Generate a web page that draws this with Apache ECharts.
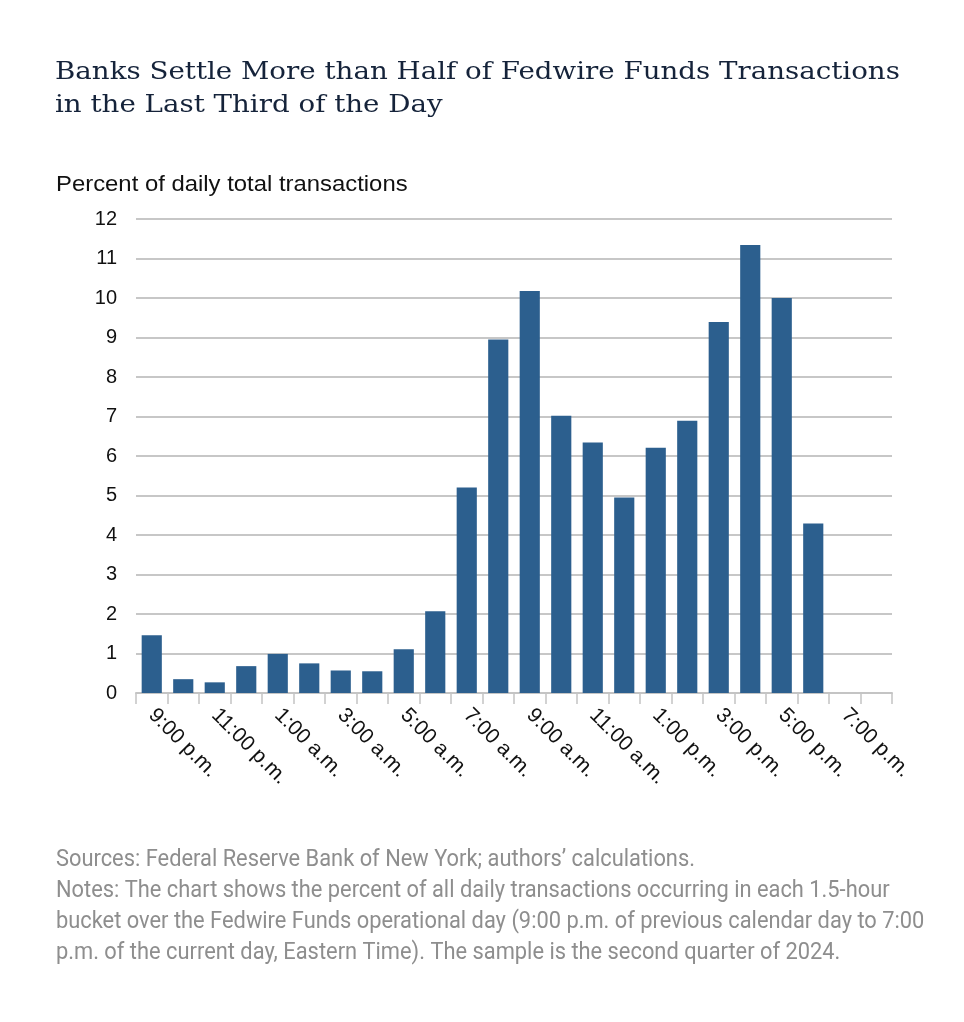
<!DOCTYPE html>
<html>
	<head>
		<meta charset="UTF-8">
		<title>Fedwire Funds transactions by hour</title>
		<style>
			html,body{margin:0;padding:0;background:#fff;}
			#box{width:964px;height:1022px;}
		</style>
	</head>
	<body>
		<div id="box"></div>
		<script type="text/javascript" src="https://cdn.jsdelivr.net/npm/echarts@6/dist/echarts.min.js"></script>
		<script type="text/javascript">
			// one category per hour, 9:00 p.m. through 8:00 p.m.
			var hours=['9:00 p.m.','10:00 p.m.','11:00 p.m.','12:00 a.m.','1:00 a.m.','2:00 a.m.','3:00 a.m.','4:00 a.m.',
				'5:00 a.m.','6:00 a.m.','7:00 a.m.','8:00 a.m.','9:00 a.m.','10:00 a.m.','11:00 a.m.','12:00 p.m.',
				'1:00 p.m.','2:00 p.m.','3:00 p.m.','4:00 p.m.','5:00 p.m.','6:00 p.m.','7:00 p.m.','8:00 p.m.'];
			// percent of daily total transactions
			var percent=[1.46,0.35,0.27,0.68,0.99,0.75,0.57,0.55,1.11,2.07,5.20,8.95,
				10.18,7.02,6.34,4.95,6.21,6.89,9.39,11.34,10.00,4.29];
			var yTicks={min:0,max:12,interval:1};

			var titleText='Banks Settle More than Half of Fedwire Funds Transactions\nin the Last Third of the Day';
			var unitText='Percent of daily total transactions';
			var noteText='Sources: Federal Reserve Bank of New York; authors\u2019 calculations.\n'+
				'Notes: The chart shows the percent of all daily transactions occurring in each 1.5-hour\n'+
				'bucket over the Fedwire Funds operational day (9:00 p.m. of previous calendar day to 7:00\n'+
				'p.m. of the current day, Eastern Time). The sample is the second quarter of 2024.';

			var myechart=echarts.init(document.getElementById('box'));
			var option={
				animation:false,
				// title, unit and notes drawn as text elements so they can be stretched like the original fonts
				graphic:[{
					type:'text',
					x:55,
					y:56,
					scaleX:1.107,
					style:{text:titleText,font:'25px "DejaVu Serif"',fill:'#15233a',lineHeight:33}
				},{
					type:'text',
					x:56,
					y:185,
					scaleX:1.085,
					style:{text:unitText,font:'22px "Liberation Sans"',fill:'#111',verticalAlign:'middle'}
				},{
					type:'text',
					x:56,
					y:845,
					scaleX:0.95,
					style:{text:noteText,font:'23px Roboto',fill:'#8e8e8e',lineHeight:31}
				}],
				grid:{left:136,right:72,top:219,bottom:329},
				xAxis:{
					type:'category',
					data:hours,
					boundaryGap:true,
					axisLine:{lineStyle:{color:'#c4c4c4',width:2}},
					axisTick:{show:true,interval:0,length:11,lineStyle:{color:'#c4c4c4',width:1.5}},
					axisLabel:{
						interval:1,
						rotate:-45,
						margin:19,
						fontFamily:'Liberation Sans',
						fontSize:21,
						color:'#111'
					}
				},
				yAxis:{
					type:'value',
					min:yTicks.min,
					max:yTicks.max,
					interval:yTicks.interval,
					axisLine:{show:false},
					axisTick:{show:false},
					axisLabel:{fontFamily:'Liberation Sans',fontSize:20,color:'#111',margin:19},
					splitLine:{lineStyle:{color:'#b5b5b5',width:1.5}}
				},
				series:[{
					name:'Percent',
					type:'bar',
					data:percent,
					barCategoryGap:'36%',
					itemStyle:{color:'#2c5f8e'}
				}]
			};
			myechart.setOption(option);
		</script>
	</body>
</html>
